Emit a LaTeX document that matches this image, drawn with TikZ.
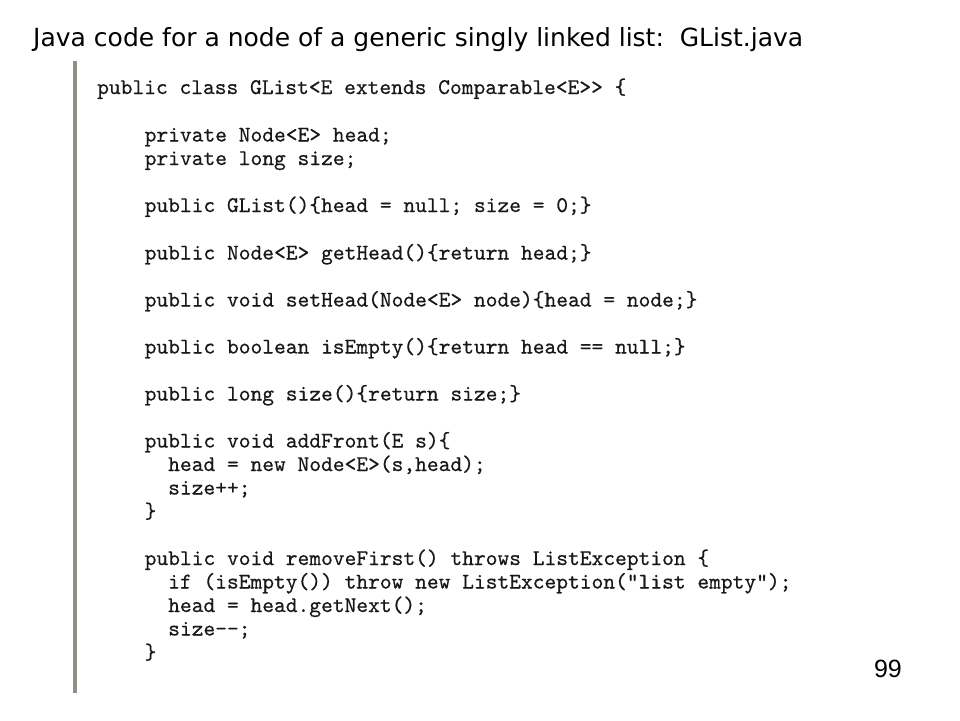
\documentclass[tikz,border=0pt]{standalone}
\usepackage{fontspec}
\newfontfamily\titlefont{DejaVu Sans}
\newfontfamily\numfont{Liberation Sans}
\newfontfamily\codefont{lmmono10-regular.otf}[FakeBold=0.5]
\definecolor{barcol}{HTML}{909088}
\definecolor{codecol}{HTML}{181818}
\begin{document}
\begin{tikzpicture}[x=1pt,y=-1pt,
  codeline/.style={anchor=base west,inner sep=0pt,text=codecol,font=\codefont\fontsize{22.4}{23.5}\selectfont},
  titletext/.style={anchor=base west,inner sep=0pt,font=\titlefont\fontsize{25}{29}\selectfont},
  pagenum/.style={anchor=base east,inner sep=0pt,font=\numfont\fontsize{25}{30}\selectfont}]
\useasboundingbox[fill=white] (0,0) rectangle (960,720);
\node[titletext] (title) at (33,46) {Java code for a node of a generic singly linked list:\ \ GList.java};
\fill[barcol] (72.7,61) rectangle (76.7,693);
\node[codeline] (l1) at (97,94) {public class GList<E extends Comparable<E>> \{};
\node[codeline] (l3) at (144.5,141.5) {private Node<E> head;};
\node[codeline] (l4) at (144.5,165) {private long size;};
\node[codeline] (l6) at (144.5,212) {public GList()\{head = null; size = 0;\}};
\node[codeline] (l8) at (144.5,259.5) {public Node<E> getHead()\{return head;\}};
\node[codeline] (l10) at (144.5,306.5) {public void setHead(Node<E> node)\{head = node;\}};
\node[codeline] (l12) at (144.5,353.5) {public boolean isEmpty()\{return head == null;\}};
\node[codeline] (l14) at (144.5,400.5) {public long size()\{return size;\}};
\node[codeline] (l16) at (144.5,447.5) {public void addFront(E s)\{};
\node[codeline] (l17) at (168,471) {head = new Node<E>(s,head);};
\node[codeline] (l18) at (168,494.5) {size++;};
\node[codeline] (l19) at (144.5,518) {\}};
\node[codeline] (l21) at (144.5,565) {public void removeFirst() throws ListException \{};
\node[codeline] (l22) at (168,588.5) {if (isEmpty()) throw new ListException("list empty");};
\node[codeline] (l23) at (168,612) {head = head.getNext();};
\node[codeline] (l24) at (168,635.5) {size-\kern0pt-;};
\node[codeline] (l25) at (144.5,659) {\}};
\node[pagenum] (num) at (902,677) {99};
\end{tikzpicture}
\end{document}
